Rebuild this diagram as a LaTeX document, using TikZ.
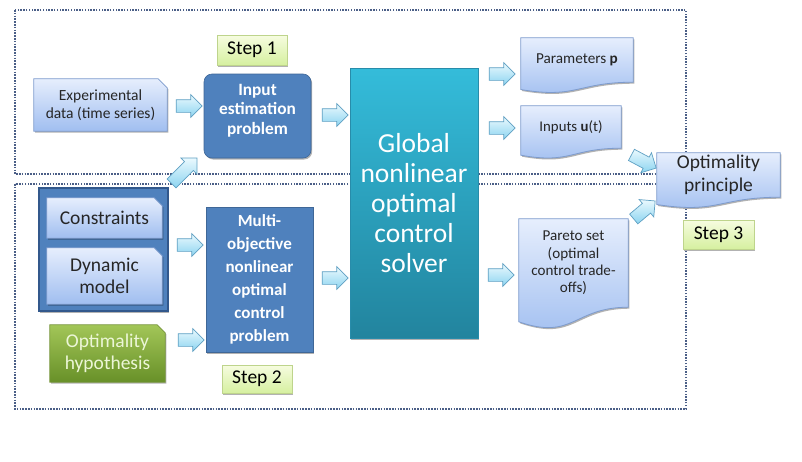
\documentclass[tikz,border=0pt]{standalone}
\usepackage{fontspec}
\setmainfont{Carlito}
\usetikzlibrary{shapes.arrows,shadows,calc}
\definecolor{dotcol}{RGB}{75,95,135}
\definecolor{docTop}{RGB}{230,238,253}
\definecolor{docBot}{RGB}{160,190,240}
\definecolor{docBorder}{RGB}{125,155,205}
\definecolor{steel}{RGB}{79,129,189}
\definecolor{steelDark}{RGB}{50,88,140}
\definecolor{solTop}{RGB}{52,188,218}
\definecolor{solBot}{RGB}{34,132,158}
\definecolor{solBorder}{RGB}{40,140,170}
\definecolor{stepTop}{RGB}{246,252,224}
\definecolor{stepBot}{RGB}{214,240,160}
\definecolor{stepBorder}{RGB}{190,212,140}
\definecolor{grnTop}{RGB}{162,198,88}
\definecolor{grnBot}{RGB}{104,144,40}
\definecolor{grnBorder}{RGB}{120,150,60}
\definecolor{grnText}{RGB}{236,246,215}
\definecolor{arrTop}{RGB}{234,249,254}
\definecolor{arrBot}{RGB}{140,212,240}
\definecolor{arrBorder}{RGB}{95,160,195}

\pgfdeclarelayer{bottom}
\pgfdeclarelayer{shapes}
\pgfsetlayers{bottom,shapes,main}

\tikzset{
  dotbox/.style={draw=dotcol, line width=1.6pt, dash pattern=on 1.5pt off 1.3pt},
  softshadow/.style={drop shadow={shadow xshift=1.2pt, shadow yshift=-1.5pt, opacity=0.3, fill=black}},
  docfill/.style={top color=docTop, bottom color=docBot, draw=docBorder, line width=0.8pt, softshadow},
  grnfill/.style={top color=grnTop, bottom color=grnBot, draw=grnBorder, line width=0.8pt, softshadow},
  txt/.style={inner sep=0pt, align=center, text=black!85},
  bluebox/.style={fill=steel, draw=steel!80!black, line width=0.6pt, text=white,
    font=\bfseries\fontsize{17.3}{19.5}\selectfont, align=center, inner sep=0pt, softshadow},
  solverbox/.style={top color=solTop, bottom color=solBot, draw=solBorder, line width=0.8pt,
    text=white, font=\fontsize{27.5}{30}\selectfont, align=center, inner sep=0pt,
    minimum width=128pt, minimum height=270pt, softshadow},
  stepbox/.style={top color=stepTop, bottom color=stepBot, draw=stepBorder, line width=0.8pt,
    font=\fontsize{19.5}{22}\selectfont, inner sep=0pt, minimum width=70pt, minimum height=30pt, softshadow},
  groupbox/.style={fill=steel, draw=steelDark, line width=1.2pt, minimum width=129pt,
    minimum height=123pt, inner sep=0pt, softshadow},
  blockarrow/.style={single arrow, single arrow head extend=5pt, minimum height=26pt,
    inner xsep=0pt, inner ysep=6pt, top color=arrTop, bottom color=arrBot,
    draw=arrBorder, line width=0.7pt},
}

% document shape: node covers the part above the wave
\newcommand\docshape[2]{%
  \path[#2] (#1.north west) -- (#1.north east) -- (#1.south east)
    .. controls (#1.south) and ($(#1.south)!-0.38!(#1.north)$)
    .. ($(#1.south west)!-0.165!(#1.north west)$) -- cycle;}
% snipped top-right corner shape
\newcommand\snipshape[3]{%
  \path[#2] (#1.north west) -- ($(#1.north east)+(-#3,0)$) -- ($(#1.north east)+(0,#3)$)
    -- (#1.south east) -- (#1.south west) -- cycle;}

\begin{document}
\begin{tikzpicture}[x=1pt,y=-1pt]
\useasboundingbox (0,0) rectangle (802,461);
\begin{pgfonlayer}{bottom}
  \fill[white] (0,0) rectangle (802,461);
  \draw[dotbox] (15,10) rectangle (686,174);
  \draw[dotbox] (15,184) rectangle (686,409);
\end{pgfonlayer}

% text nodes of the shaped boxes
\node[txt, minimum width=133pt, minimum height=52pt, font=\fontsize{15.5}{18.5}\selectfont] (exp) at (100.5,105) {Experimental\\data (time series)};
\node[txt, minimum width=112pt, minimum height=44pt, font=\fontsize{15.2}{17}\selectfont] (par) at (577,60) {Parameters \textbf{p}};
\node[txt, minimum width=100pt, minimum height=42pt, font=\fontsize{14.8}{17}\selectfont] (inu) at (571,127) {Inputs \textbf{u}(t)};
\node[txt, minimum width=123pt, minimum height=44pt, font=\fontsize{19.5}{22.5}\selectfont] (opp) at (718.5,175) {Optimality\\principle};
\node[txt, minimum width=109pt, minimum height=88pt, font=\fontsize{15.1}{17.3}\selectfont] (pst) at (573.5,263) {Pareto set\\(optimal\\control trade-\\offs)};
\node[txt, minimum width=115pt, minimum height=40pt, font=\fontsize{19.5}{21.5}\selectfont] (con) at (104.5,218) {Constraints};
\node[txt, minimum width=115pt, minimum height=56pt, font=\fontsize{19.5}{21.5}\selectfont] (dyn) at (104.5,276) {Dynamic\\model};
\node[txt, text=grnText, minimum width=115pt, minimum height=57pt, font=\fontsize{19.5}{21.5}\selectfont] (hyp) at (107.5,353.5) {Optimality\\hypothesis};

\begin{pgfonlayer}{shapes}
  \snipshape{exp}{docfill}{9}
  \docshape{par}{docfill}
  \docshape{inu}{docfill}
  \docshape{opp}{docfill}
  \docshape{pst}{docfill}
  \node[groupbox] (grp) at (103.5,249.5) {};
  \snipshape{con}{docfill}{8}
  \snipshape{dyn}{docfill}{8}
  \snipshape{hyp}{grnfill}{8}
\end{pgfonlayer}

% process boxes
\node[bluebox, rounded corners=8pt, minimum width=107pt, minimum height=84pt] (inp) at (257.5,116) {Input\\estimation\\problem\\[-5.5pt]\mbox{}};
\node[bluebox, minimum width=107pt, minimum height=145pt, font=\bfseries\fontsize{17}{23}\selectfont] (mul) at (259.5,279.5) {Multi-\\objective\\nonlinear\\optimal\\control\\problem};
\node[solverbox] (sol) at (414,203) {Global\\nonlinear\\optimal\\control\\solver};

% step labels
\node[stepbox] (s1) at (252,50) {Step 1};
\node[stepbox, minimum height=28pt] (s2) at (257,379) {Step 2};
\node[stepbox, minimum width=71pt, minimum height=29pt] (s3) at (718.5,234.5) {Step 3};

% block arrows (connectors)
\node[blockarrow] (a1) at (186,106) {};
\node[blockarrow] (a2) at (332,115) {};
\node[blockarrow] (a3) at (187,245) {};
\node[blockarrow] (a4) at (188,340) {};
\node[blockarrow] (a5) at (332,278) {};
\node[blockarrow] (a6) at (499,74) {};
\node[blockarrow] (a7) at (499,128) {};
\node[blockarrow] (a8) at (498,275) {};
\node[blockarrow, minimum height=36pt, rotate=45] (a9) at (182,173) {};
\node[blockarrow, minimum height=28pt, rotate=-28] (a10) at (641,160) {};
\node[blockarrow, minimum height=28pt, rotate=40] (a11) at (642,212) {};
\end{tikzpicture}
\end{document}
